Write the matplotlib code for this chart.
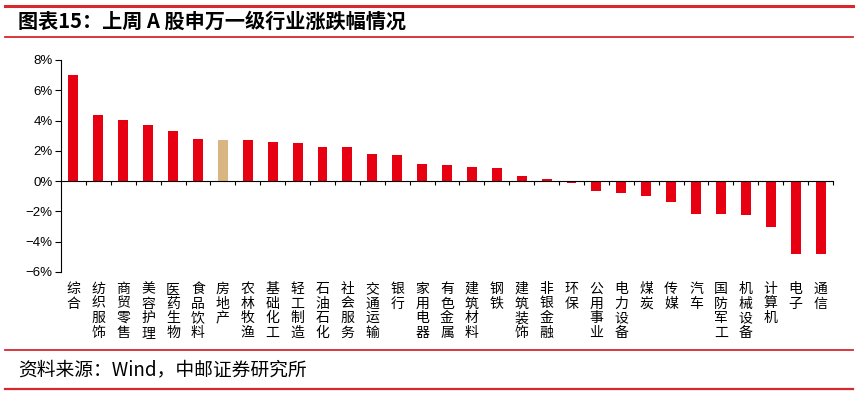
import matplotlib.pyplot as plt
from matplotlib.lines import Line2D
import matplotlib.ticker as mticker

plt.rcParams['font.family'] = ['Noto Sans CJK SC', 'DejaVu Sans']

# ---- data ----
industries = ["综合", "纺织服饰", "商贸零售", "美容护理", "医药生物", "食品饮料", "房地产",
              "农林牧渔", "基础化工", "轻工制造", "石油石化", "社会服务", "交通运输", "银行",
              "家用电器", "有色金属", "建筑材料", "钢铁", "建筑装饰", "非银金融", "环保",
              "公用事业", "电力设备", "煤炭", "传媒", "汽车", "国防军工", "机械设备",
              "计算机", "电子", "通信"]
changes = [7.00, 4.40, 4.03, 3.72, 3.30, 2.80, 2.69,
           2.69, 2.60, 2.55, 2.27, 2.25, 1.81, 1.70,
           1.10, 1.04, 0.95, 0.90, 0.33, 0.13, -0.11,
           -0.64, -0.81, -0.99, -1.39, -2.14, -2.18, -2.25,
           -3.06, -4.78, -4.78]
highlight = "房地产"

red = "#E60012"
tan = "#D9B582"
line_red = "#D7282F"

fig = plt.figure(figsize=(8.59, 3.95), dpi=100)
ax = fig.add_axes([61 / 859, 1 - 272 / 395, 772 / 859, 212 / 395])

x = list(range(len(industries)))
colors = [tan if n == highlight else red for n in industries]
ax.bar(x, [v / 100 for v in changes], width=0.4, color=colors, zorder=2)

ax.set_xlim(-0.5, len(industries) - 0.5)
ax.set_ylim(-0.06, 0.08)
ax.yaxis.set_major_locator(mticker.MultipleLocator(0.02))
ax.yaxis.set_major_formatter(
    mticker.FuncFormatter(lambda v, p: f"{v * 100:.0f}%".replace("-", "\u2212")))
for lab in ax.get_yticklabels():
    lab.set_family(["Liberation Sans", "DejaVu Sans"])
ax.tick_params(axis="y", labelsize=9.5, length=4, direction="out", pad=2)

# x axis drawn at zero, ticks between categories
ax.spines["bottom"].set_position(("data", 0))
ax.spines["top"].set_visible(False)
ax.spines["right"].set_visible(False)
ax.spines["bottom"].set_zorder(3)
ax.set_xticks([i + 0.5 for i in x])
ax.set_xticklabels([])
ax.tick_params(axis="x", length=3, direction="out")

# stacked vertical category labels under the plot
for i, name in enumerate(industries):
    ax.text(i, -0.047, "\n".join(name), transform=ax.get_xaxis_transform(),
            ha="center", va="top", fontsize=10, linespacing=1.05)

# title and source with red rules
fig.add_artist(Line2D([5 / 859, 853 / 859], [1 - 6 / 395] * 2, color=line_red, lw=2.2))
fig.add_artist(Line2D([5 / 859, 853 / 859], [1 - 37 / 395] * 2, color=line_red, lw=1.3))
fig.text(18 / 859, 1 - 21 / 395, "图表15：上周 A 股申万一级行业涨跌幅情况",
         fontsize=14.5, fontweight="bold", va="center", ha="left")

fig.add_artist(Line2D([5 / 859, 853 / 859], [1 - 350 / 395] * 2, color=line_red, lw=1.3))
fig.add_artist(Line2D([5 / 859, 853 / 859], [1 - 389 / 395] * 2, color=line_red, lw=1.6))
fig.text(18 / 859, 1 - 370 / 395, "资料来源：Wind，中邮证券研究所",
         fontsize=13.5, va="center", ha="left")

fig.savefig("out.png", dpi=100)
